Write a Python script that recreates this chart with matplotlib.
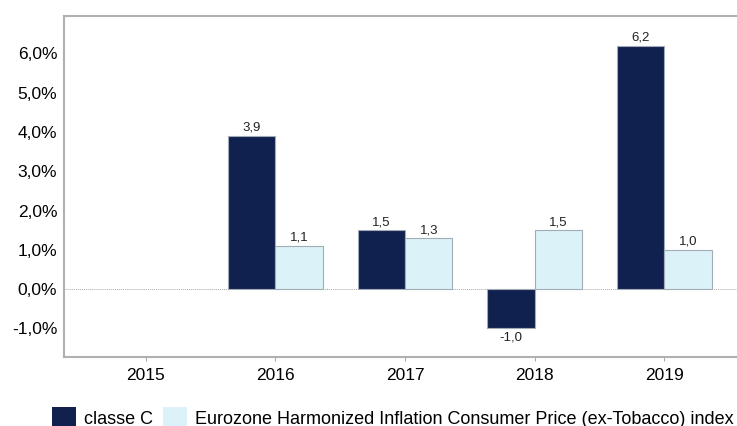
import numpy as np
import matplotlib
matplotlib.use('Agg')
import matplotlib.pyplot as plt
from matplotlib.patches import Patch

plt.rcParams['font.family'] = ['Liberation Sans', 'DejaVu Sans']

# data
years = ['2015', '2016', '2017', '2018', '2019']
classe_c = [np.nan, 3.9, 1.5, -1.0, 6.2]
hicp = [np.nan, 1.1, 1.3, 1.5, 1.0]
series_names = ['classe C',
                'Eurozone Harmonized Inflation Consumer Price (ex-Tobacco) index']

dark = '#11214f'
light = '#dcf2f9'
edge = '#a3acb5'

fig = plt.figure(figsize=(7.37, 4.26), dpi=100)
ax = fig.add_axes([0.087, 0.162, 0.92, 0.80])

x = np.arange(len(years))
w = 0.365
b1 = ax.bar(x - w / 2, classe_c, w, color=dark, edgecolor=edge, linewidth=0.8)
b2 = ax.bar(x + w / 2, hicp, w, color=light, edgecolor=edge, linewidth=0.8)


def lab(v):
    return ('%.1f' % v).replace('.', ',')


for bars, vals in [(b1, classe_c), (b2, hicp)]:
    for r, v in zip(bars, vals):
        if np.isnan(v):
            continue
        cx = r.get_x() + r.get_width() / 2
        if v >= 0:
            ax.text(cx, v + 0.05, lab(v), ha='center', va='bottom', fontsize=9.5, color='#222222')
        else:
            ax.text(cx, v - 0.08, lab(v), ha='center', va='top', fontsize=9.5, color='#222222')

ax.axhline(0, color='#aaaaaa', linestyle=(0, (1, 1)), linewidth=0.7, zorder=0)

ax.set_xlim(-0.63, 4.6)
ax.set_ylim(-1.73, 6.95)
ax.set_yticks(np.arange(-1, 7))
ax.set_yticklabels([('%.1f%%' % t).replace('.', ',') for t in np.arange(-1, 7)], fontsize=12.5)
ax.set_xticks(x)
ax.set_xticklabels(years, fontsize=12.5)
ax.tick_params(axis='y', length=0, pad=5)
ax.tick_params(axis='x', length=3, color='#aaaaaa', pad=5)

for s in ['left', 'top', 'bottom']:
    ax.spines[s].set_color('#b0b0b0')
    ax.spines[s].set_linewidth(1.5)
ax.spines['right'].set_visible(False)

handles = [Patch(facecolor=dark, edgecolor='none'), Patch(facecolor=light, edgecolor='none')]
fig.legend(handles, series_names, loc='center', bbox_to_anchor=(0.533, 0.02), ncol=2,
           frameon=False, fontsize=13, handlelength=1.35, handleheight=1.35,
           handletextpad=0.45, columnspacing=0.5, borderpad=0)

fig.savefig('out.png', dpi=100)
